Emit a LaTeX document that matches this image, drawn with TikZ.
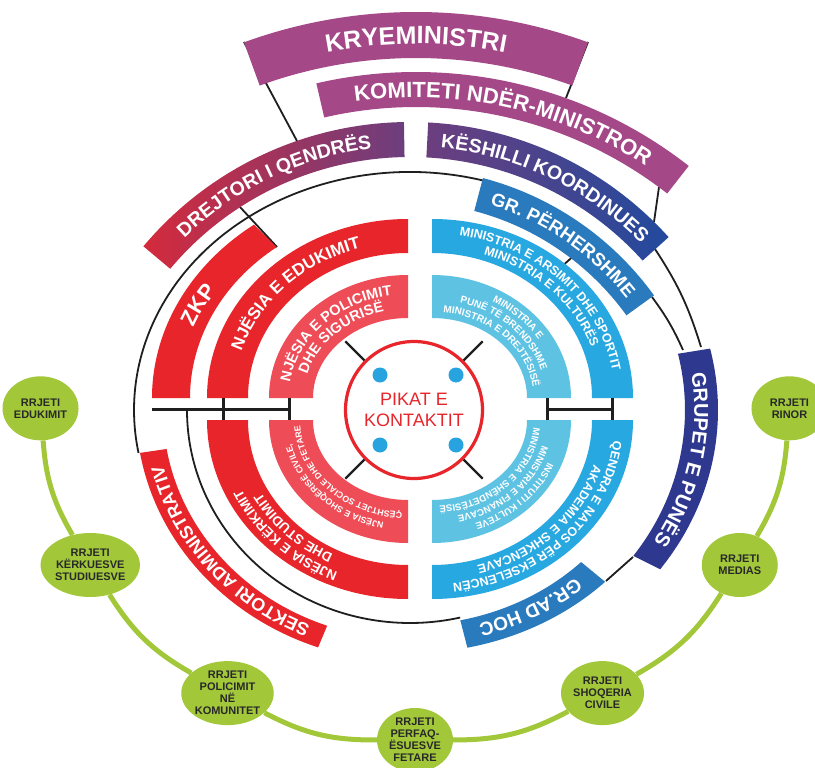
\documentclass[tikz,border=0pt]{standalone}
\usepackage{fontspec}
\setmainfont{Liberation Sans}
\usetikzlibrary{shapes.geometric,decorations.text}

\definecolor{kpurple}{RGB}{164,72,136}
\definecolor{dred}{RGB}{212,42,60}
\definecolor{dpurple}{RGB}{108,62,126}
\definecolor{kblue}{RGB}{34,74,158}
\definecolor{gblue}{RGB}{42,122,190}
\definecolor{navy}{RGB}{46,56,143}
\definecolor{midblue}{RGB}{40,168,224}
\definecolor{lightblue}{RGB}{94,194,227}
\definecolor{redband}{RGB}{231,37,42}
\definecolor{lightred}{RGB}{238,76,86}
\definecolor{netgreen}{RGB}{162,200,58}
\definecolor{dotblue}{RGB}{39,163,224}
\definecolor{nettext}{RGB}{40,40,40}

\tikzset{
  blkline/.style={line width=1.8pt, color=black!88},
  hbar/.style={line width=3pt, color=black!88},
  netnode/.style={ellipse, fill=netgreen, minimum width=76pt, minimum height=64pt, inner sep=0pt,
    align=center, text=nettext, font=\fontsize{11}{12}\selectfont\bfseries},
  netline/.style={line width=5pt, color=netgreen},
}

% center, from, to, inner x/y radius, outer x/y radius
\newcommand{\ringband}[8]{%
  \path[#1, shift={#2}] (#3:#7 and #8) arc[start angle=#3, end angle=#4, x radius=#7, y radius=#8]
    -- (#4:#5 and #6) arc[start angle=#4, end angle=#3, x radius=#5, y radius=#6] -- cycle;}
\newcommand{\ringtext}[7]{%
  \path[shift={#1}, decorate, decoration={text along path, text align=center, text color=white,
    text={|\fontsize{#6}{#6}\selectfont\bfseries|#7}}]
    (#4:#2 and #3) arc[start angle=#4, end angle=#5, x radius=#2, y radius=#3];}

\begin{document}
\begin{tikzpicture}[x=1pt,y=1pt]
\path[fill=white] (0,0) rectangle (815,-768);
\useasboundingbox (0,0) rectangle (815,-768);

\draw[blkline, shift={(410,-410)}] (74.7:276 and 238) arc[start angle=74.7, end angle=190.4, x radius=276, y radius=238];
\draw[blkline, shift={(410,-410)}] (180:223 and 213) arc[start angle=180, end angle=283, x radius=223, y radius=213];
\draw[blkline] (244,-42) -- (297,-141);
\draw[blkline] (588,-42) -- (566,-98);
\draw[blkline] (240,-207) -- (277,-247);
\draw[blkline] (578,-252) -- (560,-268);
\draw[blkline] (659,-187) -- (654,-222);
\draw[blkline] (655,-249) to[bend left=8] (701,-347);
\draw[blkline] (652,-297) to[bend left=6] (683,-350);
\draw[blkline] (633,-557) -- (606,-581);

\ringband{fill=kpurple}{(416,-515)}{70}{110}{457}{457}{503}{503}
\ringband{fill=kpurple}{(416,-515)}{52}{103}{408}{408}{443}{443}
\ringband{shade, left color=dred, right color=dpurple}{(410,-470)}{91}{140}{313}{313}{348}{348}
\ringband{shade, left color=dpurple, right color=kblue}{(410,-470)}{42}{87}{313}{313}{348}{348}
\ringband{fill=gblue}{(405,-475)}{35.8}{75.3}{273}{273}{307}{307}
\ringband{fill=navy}{(410,-410)}{-35.7}{13}{275}{250}{308}{273}
\ringband{fill=gblue}{(410,-410)}{-78}{-45}{242}{215}{276}{243}
\ringband{fill=redband}{(410,-410)}{189.8}{250.4}{247}{229}{274}{252}

\ringband{fill=redband}{(408,-398)}{127}{180}{218}{189}{256}{217}
\ringband{fill=redband}{(408,-398)}{90}{180}{160}{145}{201}{179}
\ringband{fill=lightred}{(408,-398)}{90}{180}{95}{80}{139}{123}
\ringband{fill=midblue}{(432,-398)}{0}{90}{160}{145}{201}{179}
\ringband{fill=lightblue}{(432,-398)}{0}{90}{95}{80}{139}{123}
\ringband{fill=redband}{(408,-420)}{180}{270}{160}{145}{201}{179}
\ringband{fill=lightred}{(408,-420)}{180}{270}{95}{80}{139}{123}
\ringband{fill=midblue}{(432,-420)}{270}{360}{160}{145}{201}{179}
\ringband{fill=lightblue}{(432,-420)}{270}{360}{95}{80}{139}{123}

\ringtext{(416,-515)}{471}{471}{110}{70}{25}{KRYEMINISTRI}
\ringtext{(416,-515)}{417.6}{417.6}{103}{52}{22}{KOMITETI NDËR-MINISTROR}
\ringtext{(410,-470)}{323.5}{323.5}{140}{91}{19.5}{DREJTORI I QENDRËS}
\ringtext{(410,-470)}{323.5}{323.5}{87}{42}{19.5}{KËSHILLI KOORDINUES}
\ringtext{(405,-475)}{283.4}{283.4}{75.3}{35.8}{18.5}{GR. PËRHERSHME}
\ringtext{(410,-410)}{284.3}{254.3}{13}{-35.7}{20}{GRUPET E PUNËS}
\ringtext{(410,-410)}{252.2}{222.2}{-45}{-78}{19}{GR.AD HOC}
\ringtext{(410,-410)}{253.9}{233.9}{250.4}{189.8}{18}{SEKTORI ADMINISTRATIV}

\ringtext{(408,-398)}{229.2}{195.2}{180}{127}{22}{ZKP}
\ringtext{(408,-398)}{174.4}{155.9}{180}{90}{17}{NJËSIA E EDUKIMIT}
\ringtext{(408,-398)}{119.5}{103.5}{180}{90}{14.5}{NJËSIA E POLICIMIT}
\ringtext{(408,-398)}{104.5}{88.5}{180}{90}{14.5}{DHE SIGURISË}
\ringtext{(432,-398)}{182.8}{164.3}{90}{0}{12.5}{MINISTRIA E ARSIMIT DHE SPORTIT}
\ringtext{(432,-398)}{169.3}{150.8}{90}{0}{12.5}{MINISTRIA E KULTURËS}
\ringtext{(432,-398)}{125.6}{110.1}{90}{0}{10}{MINISTRIA E}
\ringtext{(432,-398)}{113.6}{98.1}{90}{0}{10}{PUNË TË BRENDSHME}
\ringtext{(432,-398)}{101.6}{86.1}{90}{0}{10}{MINISTRIA E DREJTËSISË}
\ringtext{(408,-420)}{183.2}{164.7}{270}{180}{13.5}{NJËSIA E KËRKIMIT}
\ringtext{(408,-420)}{168.2}{149.7}{270}{180}{13.5}{DHE STUDIMIT}
\ringtext{(408,-420)}{119.9}{104.4}{270}{180}{8.8}{NJËSIA E SHOQËRISË CIVILE,}
\ringtext{(408,-420)}{107.9}{92.4}{270}{180}{8.8}{ÇËSHTJET SOCIALE DHE FETARE}
\ringtext{(432,-420)}{182.8}{164.3}{360}{270}{12.5}{QENDRA E NATOS PËR EKSELENCËN}
\ringtext{(432,-420)}{169.3}{150.8}{360}{270}{12.5}{AKADEMIA E SHKENCAVE}
\ringtext{(432,-420)}{125.6}{110.1}{360}{270}{9.5}{INSTITUTI I KULTEVE}
\ringtext{(432,-420)}{113.8}{98.3}{360}{270}{9.5}{MINISTRIA E FINANCAVE}
\ringtext{(432,-420)}{102}{86.5}{360}{270}{9.5}{MINISTRIA E SHËNDETËSISË}

\draw[hbar] (152,-409) -- (290,-409);
\draw[hbar] (223,-398) -- (223,-420);
\draw[hbar] (289,-398) -- (289,-420);
\draw[hbar] (547,-409) -- (612,-409);
\draw[hbar] (547,-398) -- (547,-420);
\draw[hbar] (612,-398) -- (612,-420);

\node[circle, draw=redband, line width=3.2pt, minimum size=137pt, text=redband, align=center,
  font=\fontsize{18}{21}\selectfont] (pikat) at (414,-410) {PIKAT E\\KONTAKTIT};
\foreach \a in {45,135,225,315}
  \draw[blkline, line width=2.2pt] (pikat.\a) -- ++(\a:27);
\foreach \p in {(380,-375),(456,-375),(380,-445),(456,-445)}
  \fill[dotblue] \p circle[radius=7.5];

\begin{scope}[shift={(415,-390)}]
\node[netnode] (edu) at (183:375 and 350) {RRJETI\\EDUKIMIT};
\node[netnode] (ker) at (210:375 and 350) {RRJETI\\KËRKUESVE\\STUDIUESVE};
\node[netnode] (pol) at (240:375 and 350) {RRJETI\\POLICIMIT\\NË\\KOMUNITET};
\node[netnode] (fet) at (270:375 and 350) {RRJETI\\PERFAQ-\\ËSUESVE\\FETARE};
\node[netnode] (sho) at (300:375 and 350) {RRJETI\\SHOQERIA\\CIVILE};
\node[netnode] (med) at (330:375 and 350) {RRJETI\\MEDIAS};
\node[netnode] (rin) at (357:375 and 350) {RRJETI\\RINOR};
\end{scope}
\draw[netline] (edu) to[bend right=13] (ker);
\draw[netline] (ker) to[bend right=14] (pol);
\draw[netline] (pol) to[bend right=14] (fet);
\draw[netline] (fet) to[bend right=14] (sho);
\draw[netline] (sho) to[bend right=14] (med);
\draw[netline] (med) to[bend right=13] (rin);

\end{tikzpicture}
\end{document}
